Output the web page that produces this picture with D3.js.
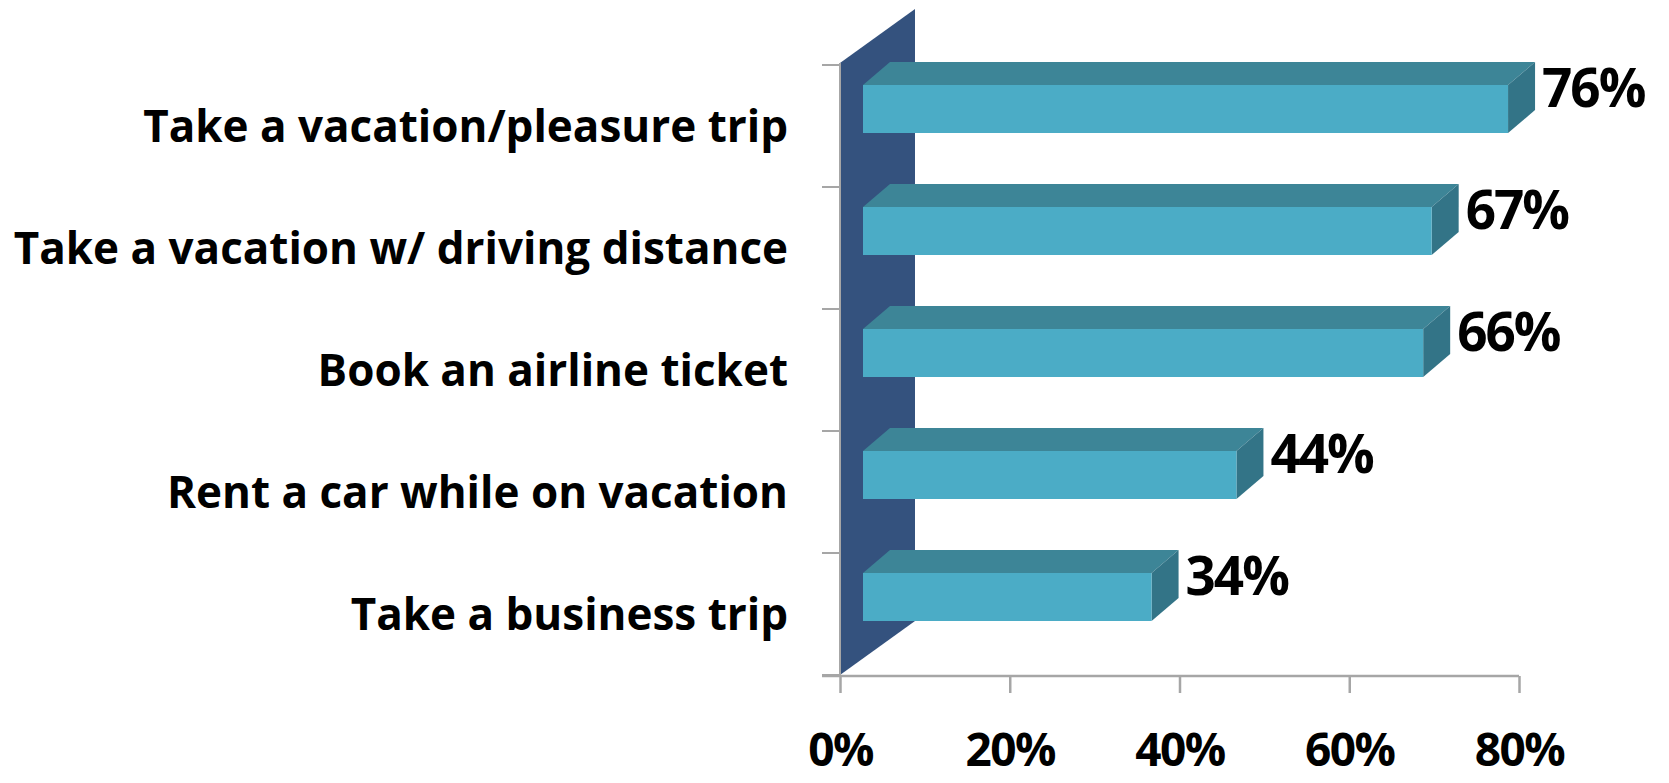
<!DOCTYPE html>
<html>
<head>
<meta charset="utf-8">
<script src="https://cdn.jsdelivr.net/npm/d3@7"></script>
<style>
  html, body { margin: 0; padding: 0; background: #ffffff; }
  svg { display: block; }
  text { font-family: "Open Sans", Lato, sans-serif; font-weight: bold; fill: #000; font-variant-ligatures: none; }
</style>
</head>
<body>
<svg id="chart" width="1669" height="783"></svg>
<script>
const categories = [
  "Take a vacation/pleasure trip",
  "Take a vacation w/ driving distance",
  "Book an airline ticket",
  "Rent a car while on vacation",
  "Take a business trip"
];
const values = [76, 67, 66, 44, 34];
const tickValues = [0, 20, 40, 60, 80];

const svg = d3.select("#chart");

const x = d3.scaleLinear().domain([0, 80]).range([840, 1519]);
const y = d3.scaleBand().domain(categories).range([65, 675]);

const wallDx = 75, wallDy = -54;
const barOff = 23, barDx = 27, barDy = -23;
const barPadTop = 20, barH = 48;

const colWall = "#34527e";
const colFront = "#4bacc6";
const colTop = "#3d8597";
const colSide = "#337487";
const colAxis = "#a6a6a6";

const y0 = y.range()[0], y1 = y.range()[1];
svg.append("polygon")
  .attr("points", [
    [x(0), y0 - 2], [x(0) + wallDx, y0 - 2 + wallDy],
    [x(0) + wallDx, y1 + wallDy], [x(0), y1]
  ].map(p => p.join(",")).join(" "))
  .attr("fill", colWall);

const yTicks = categories.map(c => y(c)).concat([y1]);
svg.append("line")
  .attr("x1", x(0)).attr("x2", x(0))
  .attr("y1", y0 - 2).attr("y2", y1 + 1)
  .attr("stroke", colAxis).attr("stroke-width", 2);
svg.selectAll(".ytick").data(yTicks).enter().append("line")
  .attr("x1", x(0) - 18).attr("x2", x(0))
  .attr("y1", d => d).attr("y2", d => d)
  .attr("stroke", colAxis).attr("stroke-width", 2);

const xAxis = d3.axisBottom(x)
  .tickValues(tickValues)
  .tickSize(17)
  .tickSizeOuter(0)
  .tickPadding(40)
  .tickFormat(d => d + "%");
const gx = svg.append("g")
  .attr("transform", `translate(0,${y1 + 1})`)
  .call(xAxis);
gx.select(".domain").attr("stroke", colAxis).attr("stroke-width", 2.5)
  .attr("d", `M${x(0) - 18},0H${x(80)}`);
gx.selectAll(".tick line").attr("stroke", colAxis).attr("stroke-width", 2.5);
gx.selectAll(".tick text")
  .attr("font-family", "'Open Sans', Lato, sans-serif")
  .attr("font-weight", "bold")
  .attr("font-size", 46)
  .attr("letter-spacing", -1.5)
  .attr("fill", "#000");

const bars = svg.selectAll(".bar").data(categories.map((c, i) => ({ c, v: values[i] })))
  .enter().append("g").attr("class", "bar");

bars.each(function (d) {
  const g = d3.select(this);
  const xa = x(0) + barOff, xb = x(d.v) + barOff;
  const yt = y(d.c) + barPadTop, yb = yt + barH;
  g.append("polygon")
    .attr("points", [[xa, yt], [xa + barDx, yt + barDy], [xb + barDx, yt + barDy], [xb, yt]]
      .map(p => p.join(",")).join(" "))
    .attr("fill", colTop);
  g.append("polygon")
    .attr("points", [[xb, yt], [xb + barDx, yt + barDy], [xb + barDx, yb + barDy], [xb, yb]]
      .map(p => p.join(",")).join(" "))
    .attr("fill", colSide);
  g.append("rect")
    .attr("x", xa).attr("y", yt)
    .attr("width", xb - xa).attr("height", barH)
    .attr("fill", colFront);
  g.append("text")
    .attr("x", xb + barDx + 7)
    .attr("y", yt + 22)
    .attr("font-size", 53)
    .attr("letter-spacing", -2)
    .text(d.v + "%");
});

svg.selectAll(".cat").data(categories).enter().append("text")
  .attr("class", "cat")
  .attr("x", 788)
  .attr("y", d => y(d) + y.bandwidth() / 2 + 16)
  .attr("text-anchor", "end")
  .attr("font-size", 44)
  .attr("letter-spacing", 0)
  .text(d => d);
</script>
</body>
</html>
